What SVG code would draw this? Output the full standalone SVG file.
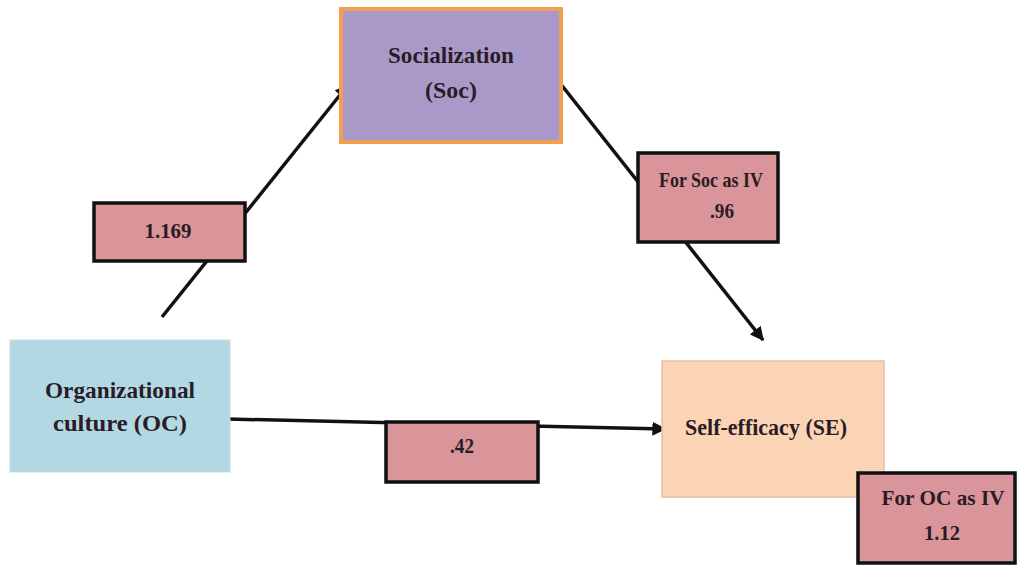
<svg xmlns="http://www.w3.org/2000/svg" width="1018" height="565" viewBox="0 0 1018 565">
  <defs>
    <marker id="arrow" viewBox="0 0 10 10" refX="9" refY="5" markerWidth="4" markerHeight="4" orient="auto" markerUnits="strokeWidth">
      <path d="M0,0 L10,5 L0,10 z" fill="#111"/>
    </marker>
    <style>
      .lbl { font-weight: bold; fill: #2b1b26; text-anchor: middle; }
      .big { font-size: 23px; }
      .small { font-size: 21px; }
      .coef { fill: #d9959a; stroke: #111; stroke-width: 3.5; }
      .edge { stroke: #111; stroke-width: 3.5; fill: none; marker-end: url(#arrow); }
    </style>
  </defs>
  <rect width="1018" height="565" fill="#ffffff"/>

  <!-- paths between the constructs -->
  <g id="connectors">
    <line class="edge" x1="162" y1="317" x2="348" y2="85"/>
    <line class="edge" x1="552" y1="73" x2="763" y2="340"/>
    <line class="edge" x1="227" y1="419" x2="665" y2="429"/>
  </g>

  <g font-family="'Liberation Serif', 'Times New Roman', serif">
    <g id="node-soc">
      <rect x="341" y="9" width="220" height="133" fill="#a899c8" stroke="#f0a04f" stroke-width="4"/>
      <text class="lbl big" x="451" y="63" textLength="126" lengthAdjust="spacingAndGlyphs">Socialization</text>
      <text class="lbl big" x="451" y="98" textLength="52" lengthAdjust="spacingAndGlyphs">(Soc)</text>
    </g>

    <g id="node-oc">
      <rect x="10" y="340" width="220" height="132" fill="#b2d8e3" stroke="#c8dde3" stroke-width="1"/>
      <text class="lbl big" x="120" y="398" textLength="150" lengthAdjust="spacingAndGlyphs">Organizational</text>
      <text class="lbl big" x="120" y="431" textLength="134" lengthAdjust="spacingAndGlyphs">culture (OC)</text>
    </g>

    <g id="node-se">
      <rect x="662" y="361" width="222" height="136" fill="#fbd4b6" stroke="#e6bca6" stroke-width="1.5"/>
      <text class="lbl big" x="766" y="435" textLength="162" lengthAdjust="spacingAndGlyphs">Self-efficacy (SE)</text>
    </g>

    <!-- path coefficients -->
    <g id="coef-oc-soc">
      <rect class="coef" x="94" y="203" width="151" height="58"/>
      <text class="lbl small" x="168" y="238" textLength="47" lengthAdjust="spacingAndGlyphs">1.169</text>
    </g>

    <g id="coef-soc-se">
      <rect class="coef" x="638" y="153" width="140" height="89"/>
      <text class="lbl small" x="711" y="187" textLength="104" lengthAdjust="spacingAndGlyphs">For Soc as IV</text>
      <text class="lbl small" x="722" y="218" textLength="24" lengthAdjust="spacingAndGlyphs">.96</text>
    </g>

    <g id="coef-oc-se">
      <rect class="coef" x="386" y="422" width="152" height="60"/>
      <text class="lbl small" x="462" y="453" textLength="24" lengthAdjust="spacingAndGlyphs">.42</text>
    </g>

    <g id="coef-oc-iv">
      <rect class="coef" x="858" y="473" width="157" height="90"/>
      <text class="lbl small" x="943" y="505" textLength="123" lengthAdjust="spacingAndGlyphs">For OC as IV</text>
      <text class="lbl small" x="942" y="540" textLength="36" lengthAdjust="spacingAndGlyphs">1.12</text>
    </g>
  </g>
</svg>
